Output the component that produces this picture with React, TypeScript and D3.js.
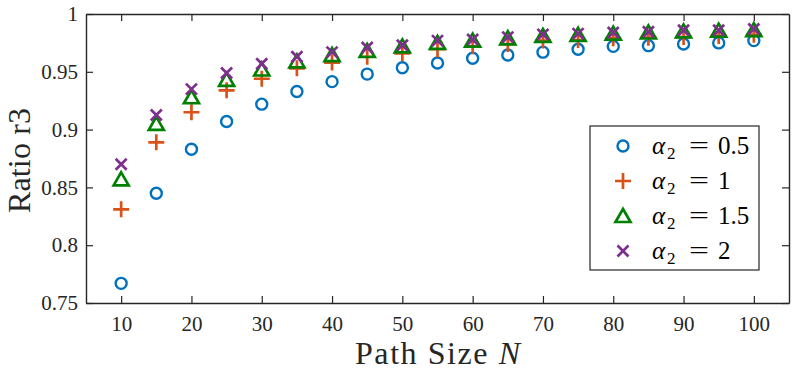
import React, { useRef, useEffect } from 'react';
import * as d3 from 'd3';

// path sizes on the x axis
const pathSizes = [10, 15, 20, 25, 30, 35, 40, 45, 50, 55, 60, 65, 70, 75, 80, 85, 90, 95, 100];

// ratio r3 for each alpha_2
const alpha05 = [0.767, 0.845, 0.883, 0.907, 0.922, 0.933, 0.9415, 0.948, 0.9535, 0.9576, 0.9617, 0.9645, 0.967, 0.9695, 0.972, 0.9726, 0.974, 0.975, 0.977];
const alpha1 = [0.831, 0.889, 0.915, 0.934, 0.944, 0.953, 0.958, 0.963, 0.966, 0.9695, 0.972, 0.974, 0.977, 0.9775, 0.979, 0.9795, 0.98, 0.981, 0.982];
const alpha15 = [0.857, 0.905, 0.928, 0.943, 0.952, 0.959, 0.9645, 0.968, 0.972, 0.975, 0.977, 0.979, 0.981, 0.982, 0.983, 0.984, 0.985, 0.9856, 0.986];
const alpha2 = [0.87, 0.9126, 0.935, 0.949, 0.957, 0.963, 0.967, 0.971, 0.973, 0.977, 0.978, 0.98, 0.9824, 0.983, 0.984, 0.9847, 0.986, 0.986, 0.987];

const legendValues = ['0.5', '1', '1.5', '2'];
const xTicks = [10, 20, 30, 40, 50, 60, 70, 80, 90, 100];
const yTicks = [0.75, 0.8, 0.85, 0.9, 0.95, 1];

const series = [
  { values: alpha05, marker: 'circle', color: '#0072BD' },
  { values: alpha1, marker: 'plus', color: '#D95319' },
  { values: alpha15, marker: 'triangle', color: '#008000' },
  { values: alpha2, marker: 'cross', color: '#7E2F8E' },
];

const FONT = '"Liberation Serif", "Times New Roman", serif';

function markerPath(type: string) {
  if (type === 'plus') return 'M-8,0H8M0,-8V8';
  if (type === 'cross') return 'M-5.5,-5.5L5.5,5.5M-5.5,5.5L5.5,-5.5';
  if (type === 'triangle') return 'M0,-7L7.5,6L-7.5,6Z';
  return 'M5.5,0A5.5,5.5 0 1,1 -5.5,0A5.5,5.5 0 1,1 5.5,0Z';
}

function drawMarker(g, type, color, x, y) {
  g.append('path')
    .attr('d', markerPath(type))
    .attr('transform', `translate(${x},${y})`)
    .attr('fill', 'none')
    .attr('stroke', color)
    .attr('stroke-width', type === 'circle' ? 2.4 : 2.7);
}

export default function App() {
  const svgRef = useRef<SVGSVGElement>(null);

  useEffect(() => {
    const svg = d3.select(svgRef.current);
    svg.selectAll('*').remove();

    const width = 804;
    const height = 372;
    const margin = { top: 14, right: 15, bottom: 69, left: 86 };
    const axisColor = '#262626';

    const x = d3.scaleLinear().domain([5, 105]).range([margin.left, width - margin.right]);
    const y = d3.scaleLinear().domain([0.75, 1]).range([height - margin.bottom, margin.top]);

    svg.append('rect').attr('width', width).attr('height', height).attr('fill', 'white');

    // markers
    series.forEach(s => {
      const g = svg.append('g');
      s.values.forEach((v, i) => drawMarker(g, s.marker, s.color, x(pathSizes[i]), y(v)));
    });

    // axes, ticks on all four sides pointing inward
    const fmt = (d) => String(d);
    const axes = svg.append('g');
    axes.append('g')
      .attr('transform', `translate(0,${height - margin.bottom})`)
      .call(d3.axisBottom(x).tickValues(xTicks).tickSizeInner(-7).tickSizeOuter(0).tickPadding(13).tickFormat(fmt));
    axes.append('g')
      .attr('transform', `translate(0,${margin.top})`)
      .call(d3.axisTop(x).tickValues(xTicks).tickSizeInner(-7).tickSizeOuter(0).tickFormat(() => ''));
    axes.append('g')
      .attr('transform', `translate(${margin.left},0)`)
      .call(d3.axisLeft(y).tickValues(yTicks).tickSizeInner(-7).tickSizeOuter(0).tickPadding(8).tickFormat(fmt));
    axes.append('g')
      .attr('transform', `translate(${width - margin.right},0)`)
      .call(d3.axisRight(y).tickValues(yTicks).tickSizeInner(-7).tickSizeOuter(0).tickFormat(() => ''));

    axes.selectAll('g').attr('font-family', FONT).attr('font-size', 21);
    axes.selectAll('.domain').attr('stroke', axisColor).attr('stroke-width', 1.4);
    axes.selectAll('.tick line').attr('stroke', axisColor).attr('stroke-width', 1.2);
    axes.selectAll('.tick text').attr('fill', axisColor);

    // axis labels
    svg.append('text')
      .attr('x', (margin.left + width - margin.right) / 2)
      .attr('y', 364)
      .attr('text-anchor', 'middle')
      .attr('textLength', 165)
      .attr('lengthAdjust', 'spacing')
      .attr('fill', axisColor)
      .style('font-family', FONT)
      .style('font-size', '32px')
      .call(t => {
        t.append('tspan').text('Path Size ');
        t.append('tspan').style('font-style', 'italic').text('N');
      });

    svg.append('text')
      .attr('transform', `translate(30,${(margin.top + height - margin.bottom) / 2 + 2}) rotate(-90)`)
      .attr('text-anchor', 'middle')
      .attr('textLength', 105)
      .attr('lengthAdjust', 'spacing')
      .attr('fill', axisColor)
      .style('font-family', FONT)
      .style('font-size', '32px')
      .text('Ratio r3');

    // legend
    const lg = svg.append('g');
    lg.append('rect')
      .attr('x', 590).attr('y', 126)
      .attr('width', 169).attr('height', 144)
      .attr('fill', 'white')
      .attr('stroke', axisColor)
      .attr('stroke-width', 1.2);
    series.forEach((s, i) => {
      const cy = 146 + i * 35;
      drawMarker(lg, s.marker, s.color, 623, cy);
      const t = lg.append('text')
        .attr('y', cy + 8)
        .attr('fill', 'black')
        .style('font-family', FONT)
        .style('font-size', '25px');
      t.append('tspan').attr('x', 652).style('font-style', 'italic').text('α');
      t.append('tspan').attr('x', 667).attr('dy', 5).style('font-size', '17px').text('2');
      t.append('tspan').attr('x', 689).attr('dy', -5).attr('textLength', 20).attr('lengthAdjust', 'spacingAndGlyphs').text('=');
      t.append('tspan').attr('x', 718).text(legendValues[i]);
    });
  }, []);

  return (
    <svg
      ref={svgRef}
      width={804}
      height={372}
      style={{ position: 'absolute', left: 0, top: 0, display: 'block' }}
    ></svg>
  );
}
